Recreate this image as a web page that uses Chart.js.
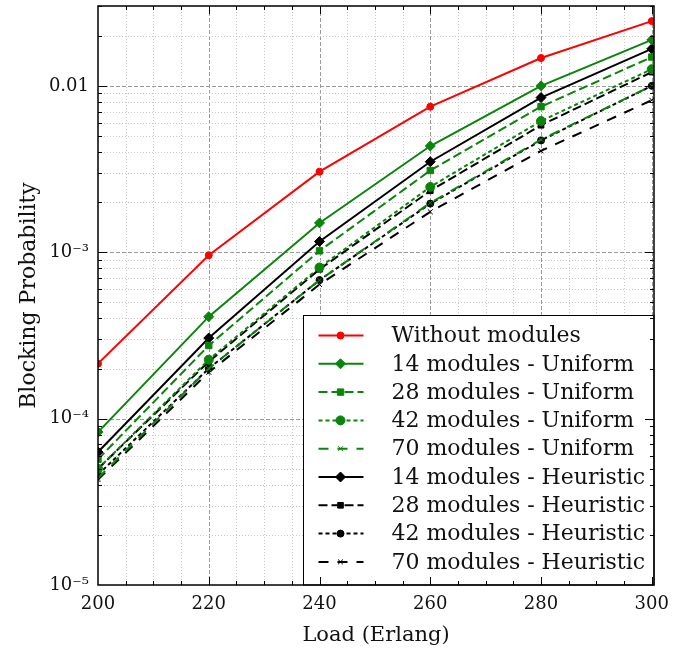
<!DOCTYPE html>
<html>
<head>
<meta charset="utf-8">
<script src="https://cdn.jsdelivr.net/npm/chart.js@4.4.0/dist/chart.umd.min.js"></script>
<style>
html, body { margin: 0; padding: 0; background: #fff; }
</style>
</head>
<body>
<canvas id="chart" width="676" height="654"></canvas>
<script>
// load values (Erlang) and blocking probabilities
const loads = [200, 220, 240, 260, 280, 300];
const xTickLabels = [200, 220, 240, 260, 280, 300];
const yTickValues = [1e-5, 1e-4, 1e-3, 1e-2];

const withoutModules = [2.14e-4, 9.6e-4, 3.05e-3, 7.5e-3, 0.0147, 0.0245];
const uniform14 = [8.3e-5, 4.1e-4, 1.5e-3, 4.35e-3, 0.0100, 0.0189];
const uniform28 = [5.7e-5, 2.75e-4, 1.02e-3, 3.1e-3, 7.5e-3, 0.0149];
const uniform42 = [5.0e-5, 2.26e-4, 8.1e-4, 2.47e-3, 6.15e-3, 0.0126];
const uniform70 = [4.4e-5, 2.0e-4, 6.8e-4, 1.98e-3, 4.75e-3, 0.0100];
const heuristic14 = [6.3e-5, 3.05e-4, 1.16e-3, 3.5e-3, 8.5e-3, 0.0167];
const heuristic28 = [5.0e-5, 2.2e-4, 7.9e-4, 2.34e-3, 5.8e-3, 0.0121];
const heuristic42 = [4.6e-5, 2.0e-4, 6.8e-4, 1.96e-3, 4.7e-3, 0.0100];
const heuristic70 = [4.3e-5, 1.9e-4, 6.4e-4, 1.75e-3, 4.07e-3, 0.0082];

const seriesNames = [
    "Without modules",
    "14 modules - Uniform",
    "28 modules - Uniform",
    "42 modules - Uniform",
    "70 modules - Uniform",
    "14 modules - Heuristic",
    "28 modules - Heuristic",
    "42 modules - Heuristic",
    "70 modules - Heuristic"
];

const FONT = "'DejaVu Serif', serif";
const RED = "#ff0000";
const GREEN = "#0a840a";
const BLACK = "#000000";

function makeSet(label, data, color, dash, style, radius){
    return {
        label: label,
        data: data,
        borderColor: color,
        backgroundColor: color,
        borderWidth: 2,
        borderDash: dash,
        pointStyle: style,
        pointRadius: radius,
        pointBorderWidth: 1,
        pointBackgroundColor: color,
        pointBorderColor: color,
        tension: 0,
        fill: false
    };
}

const datasets = [
    makeSet(seriesNames[0], withoutModules, RED, [], "circle", 3.5),
    makeSet(seriesNames[1], uniform14, GREEN, [], "rectRot", 5),
    makeSet(seriesNames[2], uniform28, GREEN, [9, 4], "rect", 4.5),
    makeSet(seriesNames[3], uniform42, GREEN, [4, 3], "circle", 4.5),
    makeSet(seriesNames[4], uniform70, GREEN, [10, 9], "crossRot", 3.5),
    makeSet(seriesNames[5], heuristic14, BLACK, [], "rectRot", 5),
    makeSet(seriesNames[6], heuristic28, BLACK, [9, 4], "rect", 4),
    makeSet(seriesNames[7], heuristic42, BLACK, [4, 3], "circle", 3.5),
    makeSet(seriesNames[8], heuristic70, BLACK, [10, 9], "crossRot", 3.5)
];

const supDigits = { "-": "\u207B", "1": "\u00B9", "2": "\u00B2", "3": "\u00B3", "4": "\u2074", "5": "\u2075" };

function yLabel(v){
    if(v === 1e-2){
        return "0.01";
    }
    const exp = String(Math.round(Math.log10(v)));
    return "10" + exp.split("").map(c => supDigits[c]).join("");
}

// grid, legend box, frame and inward ticks
const decorations = {
    id: "decorations",
    beforeDatasetsDraw(chart){
        const {ctx, chartArea: a, scales: {x, y}} = chart;
        ctx.save();
        ctx.lineWidth = 1;
        for(let v = 205; v <= 300; v += 5){
            const px = Math.round(x.getPixelForValue(v)) + 0.5;
            const major = v % 20 === 0;
            ctx.strokeStyle = major ? "#9a9a9a" : "#c8c8c8";
            ctx.setLineDash(major ? [4, 2] : [1, 2]);
            ctx.beginPath();
            ctx.moveTo(px, a.top);
            ctx.lineTo(px, a.bottom);
            ctx.stroke();
        }
        for(let d = -5; d <= -2; d++){
            for(let m = 1; m <= 9; m++){
                const v = m * Math.pow(10, d);
                if(v <= y.min * 1.0001 || v > y.max){
                    continue;
                }
                const py = Math.round(y.getPixelForValue(v)) + 0.5;
                const major = m === 1;
                ctx.strokeStyle = major ? "#9a9a9a" : "#c8c8c8";
                ctx.setLineDash(major ? [4, 2] : [1, 2]);
                ctx.beginPath();
                ctx.moveTo(a.left, py);
                ctx.lineTo(a.right, py);
                ctx.stroke();
            }
        }
        ctx.restore();
    },
    afterDatasetsDraw(chart){
        const {ctx, chartArea: a, scales: {x, y}} = chart;
        ctx.save();

        // legend
        const boxL = 303.5, boxT = 315.5;
        ctx.fillStyle = "#ffffff";
        ctx.fillRect(boxL, boxT, a.right - boxL, a.bottom - boxT);
        ctx.strokeStyle = "#000";
        ctx.lineWidth = 1;
        ctx.setLineDash([]);
        ctx.strokeRect(boxL, boxT, a.right - boxL, a.bottom - boxT);

        ctx.font = "22px " + FONT;
        ctx.textBaseline = "middle";
        ctx.textAlign = "left";
        chart.data.datasets.forEach((ds, i) => {
            const rowY = boxT + 20 + i * 28.3;
            ctx.strokeStyle = ds.borderColor;
            ctx.fillStyle = ds.borderColor;
            ctx.lineWidth = 2;
            ctx.setLineDash(ds.borderDash);
            ctx.beginPath();
            ctx.moveTo(boxL + 15, rowY);
            ctx.lineTo(boxL + 60, rowY);
            ctx.stroke();
            ctx.setLineDash([]);
            ctx.lineWidth = 1;
            Chart.helpers.drawPoint(ctx, {
                pointStyle: ds.pointStyle,
                radius: ds.pointRadius,
                rotation: 0,
                borderWidth: 1
            }, boxL + 37, rowY);
            ctx.fillStyle = "#111";
            ctx.fillText(ds.label, boxL + 88, rowY + 1);
        });

        // frame
        ctx.strokeStyle = "#000";
        ctx.lineWidth = 1.5;
        ctx.strokeRect(a.left, a.top, a.right - a.left, a.bottom - a.top);

        // inward ticks on all four sides
        ctx.lineWidth = 1;
        for(let v = 205; v < 300.4; v += 5){
            const px = Math.round(x.getPixelForValue(v)) + 0.5;
            const len = v % 20 === 0 ? 8 : 4;
            ctx.beginPath();
            ctx.moveTo(px, a.bottom);
            ctx.lineTo(px, a.bottom - len);
            ctx.moveTo(px, a.top);
            ctx.lineTo(px, a.top + len);
            ctx.stroke();
        }
        for(let d = -5; d <= -2; d++){
            for(let m = 1; m <= 9; m++){
                const v = m * Math.pow(10, d);
                if(v <= y.min * 1.0001 || v > y.max){
                    continue;
                }
                const py = Math.round(y.getPixelForValue(v)) + 0.5;
                const len = m === 1 ? 9 : 4;
                ctx.beginPath();
                ctx.moveTo(a.left, py);
                ctx.lineTo(a.left + len, py);
                ctx.moveTo(a.right, py);
                ctx.lineTo(a.right - len, py);
                ctx.stroke();
            }
        }
        ctx.restore();
    }
};

new Chart(document.getElementById("chart"), {
    type: "line",
    data: {
        labels: loads,
        datasets: datasets.map(ds => ({
            ...ds,
            data: ds.data.map((v, i) => ({x: loads[i], y: v}))
        }))
    },
    options: {
        responsive: false,
        animation: false,
        layout: {
            padding: {top: 6, right: 22, left: 0, bottom: 0}
        },
        plugins: {
            legend: {display: false},
            tooltip: {enabled: false}
        },
        scales: {
            x: {
                type: "linear",
                min: 200,
                max: 300.4,
                afterBuildTicks: scale => {
                    scale.ticks = xTickLabels.map(v => ({value: v}));
                },
                afterFit: scale => {
                    scale.height = 69;
                    scale.paddingLeft = 0;
                    scale.paddingRight = 0;
                },
                grid: {display: false, drawTicks: false},
                border: {display: false},
                ticks: {
                    color: "#111",
                    font: {family: FONT, size: 18},
                    padding: 9,
                    maxRotation: 0
                },
                title: {
                    display: true,
                    text: "Load (Erlang)",
                    color: "#111",
                    font: {family: FONT, size: 21},
                    padding: {top: 0, bottom: 6}
                }
            },
            y: {
                type: "logarithmic",
                min: 1e-5,
                max: 0.0302,
                afterBuildTicks: scale => {
                    scale.ticks = yTickValues.map(v => ({value: v}));
                },
                afterFit: scale => {
                    scale.width = 98;
                    scale.paddingTop = 0;
                    scale.paddingBottom = 0;
                },
                grid: {display: false, drawTicks: false},
                border: {display: false},
                ticks: {
                    color: "#111",
                    font: {family: FONT, size: 18},
                    padding: 9,
                    callback: v => yLabel(v)
                },
                title: {
                    display: true,
                    text: "Blocking Probability",
                    color: "#111",
                    font: {family: FONT, size: 22},
                    padding: {top: 16, bottom: 0}
                }
            }
        }
    },
    plugins: [decorations]
});
</script>
</body>
</html>
